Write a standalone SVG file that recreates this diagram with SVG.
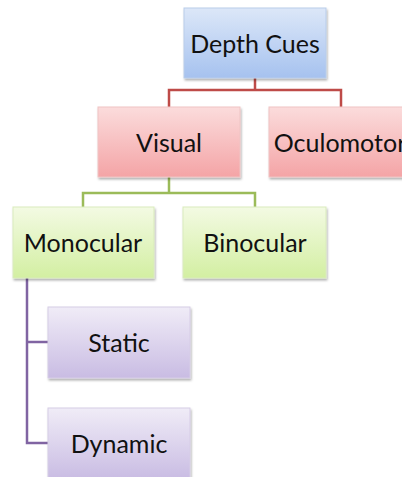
<svg xmlns="http://www.w3.org/2000/svg" width="402" height="477" viewBox="0 0 402 477">
<defs>
<linearGradient id="gb" x1="0" y1="0" x2="0" y2="1"><stop offset="0" stop-color="#dce7f8"/><stop offset="1" stop-color="#a6c2ef"/></linearGradient>
<linearGradient id="gr" x1="0" y1="0" x2="0" y2="1"><stop offset="0" stop-color="#fbdcdc"/><stop offset="1" stop-color="#f4a4a6"/></linearGradient>
<linearGradient id="gg" x1="0" y1="0" x2="0" y2="1"><stop offset="0" stop-color="#f3fae3"/><stop offset="1" stop-color="#d3efa2"/></linearGradient>
<linearGradient id="gp" x1="0" y1="0" x2="0" y2="1"><stop offset="0" stop-color="#f0ecf7"/><stop offset="1" stop-color="#c9bce3"/></linearGradient>
<filter id="sh" x="-10%" y="-10%" width="125%" height="130%"><feDropShadow dx="1" dy="2" stdDeviation="1.2" flood-color="#000" flood-opacity="0.3"/></filter>
</defs>
<style>
.box{filter:url(#sh);stroke-width:1}
.b{fill:url(#gb);stroke:#b9cdea}
.r{fill:url(#gr);stroke:#efc4c4}
.g{fill:url(#gg);stroke:#d9ebbd}
.p{fill:url(#gp);stroke:#d6cde6}
text{font-family:Lato,"Open Sans","Liberation Sans",sans-serif;font-size:25px;fill:#111;text-anchor:middle;dominant-baseline:central}
.c{fill:none;stroke-width:2.5}
</style>
<g id="connectors">
<path class="c" stroke="#be4b48" d="M255 78V90M169 107V90H341V107"/>
<path class="c" stroke="#9bbb59" d="M169 177V193M83 207V193H255V207"/>
<path class="c" stroke="#8064a2" d="M27 278V443H48M27 342H48"/>
</g>
<g id="depth-cues"><rect class="box b" x="184" y="8" width="142" height="70"/><text x="255" y="43">Depth Cues</text></g>
<g id="visual"><rect class="box r" x="98" y="107" width="142" height="70"/><text x="169" y="142">Visual</text></g>
<g id="oculomotor"><rect class="box r" x="269" y="107" width="142" height="70"/><text x="340" y="142">Oculomotor</text></g>
<g id="monocular"><rect class="box g" x="13" y="207" width="141" height="71"/><text x="83" y="242">Monocular</text></g>
<g id="binocular"><rect class="box g" x="183" y="207" width="143" height="71"/><text x="255" y="242">Binocular</text></g>
<g id="static"><rect class="box p" x="48" y="307" width="142" height="71"/><text x="119" y="342">Static</text></g>
<g id="dynamic"><rect class="box p" x="48" y="408" width="142" height="71"/><text x="119" y="443">Dynamic</text></g>
</svg>
